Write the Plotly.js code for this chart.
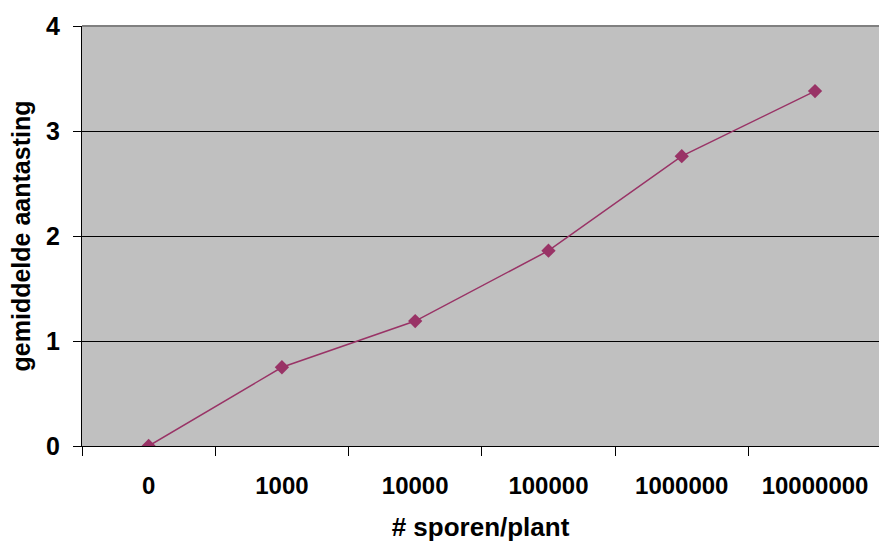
<!DOCTYPE html>
<html>
<head>
<meta charset="utf-8">
<script src="https://cdn.plot.ly/plotly-3.0.1.min.js"></script>
<style>
html,body{margin:0;padding:0;background:#fff;}
#chart{width:879px;height:545px;}
</style>
</head>
<body>
<div id="chart"></div>
<script>
const categories = ["0", "1000", "10000", "100000", "1000000", "10000000"];
const meanInfection = [0, 0.75, 1.19, 1.86, 2.76, 3.38];
const yTickValues = [0, 1, 2, 3, 4];

const FONT = "Liberation Sans, Arial, sans-serif";

const trace = {
  x: categories,
  y: meanInfection,
  type: "scatter",
  mode: "lines+markers",
  line: {color: "#993366", width: 1.5},
  marker: {symbol: "diamond", size: 11, color: "#993366"},
  hoverinfo: "skip"
};

const layout = {
  width: 879,
  height: 545,
  margin: {l: 82, r: 0, t: 26, b: 99, pad: 0},
  paper_bgcolor: "#ffffff",
  plot_bgcolor: "#c0c0c0",
  showlegend: false,
  xaxis: {
    type: "category",
    range: [-0.5, 5.48],
    tickson: "boundaries",
    ticks: "outside",
    ticklen: 9,
    tickwidth: 1,
    tickcolor: "#000000",
    showgrid: false,
    zeroline: false,
    showline: true,
    linecolor: "#000000",
    linewidth: 1,
    ticklabelstandoff: 18,
    tickfont: {family: FONT, size: 24, color: "#000000", weight: "bold"},
    title: {text: "# sporen/plant", font: {family: FONT, size: 26, color: "#000000", weight: "bold"}, standoff: 20}
  },
  yaxis: {
    range: [0, 4],
    tickvals: yTickValues,
    ticktext: yTickValues.map(String),
    ticks: "outside",
    ticklen: 8,
    tickwidth: 1,
    tickcolor: "#000000",
    showgrid: true,
    gridcolor: "#000000",
    gridwidth: 1,
    zeroline: false,
    showline: true,
    linecolor: "#000000",
    linewidth: 1,
    ticklabelstandoff: 8,
    tickfont: {family: FONT, size: 25, color: "#000000", weight: "bold"},
    title: {text: "gemiddelde aantasting", font: {family: FONT, size: 25, color: "#000000", weight: "bold"}, standoff: 8}
  },
  shapes: [
    {type: "line", xref: "paper", yref: "paper", x0: 0, x1: 1, y0: 1, y1: 1, line: {color: "#808080", width: 2}}
  ]
};

Plotly.newPlot("chart", [trace], layout, {displayModeBar: false, staticPlot: true});
</script>
</body>
</html>
